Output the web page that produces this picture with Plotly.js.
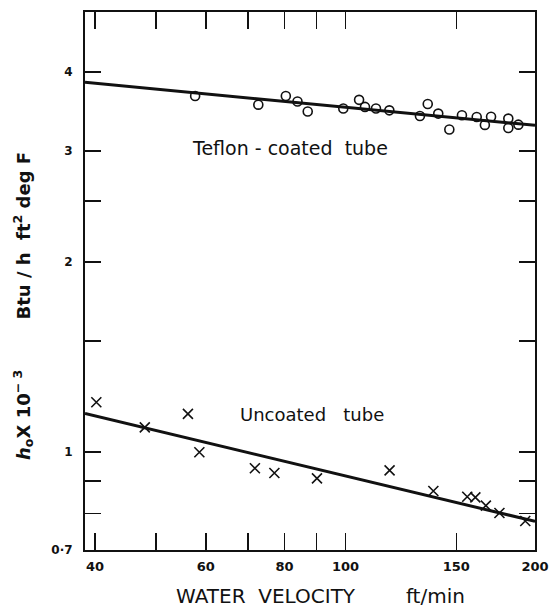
<!DOCTYPE html>
<html>
<head>
<meta charset="utf-8">
<script src="https://cdn.plot.ly/plotly-3.0.1.min.js"></script>
<style>html,body{margin:0;padding:0;background:#fff;}#chart{width:550px;height:612px;}</style>
</head>
<body>
<div id="chart"></div>
<script>
// Teflon-coated tube (open circles): water velocity ft/min, h_o x 10^-3
const teflonVel = [57.7, 72.7, 80.4, 83.9, 87.1, 99.2, 105.1, 107.4, 111.8, 117.4, 131.3, 135.1, 140.4, 146.2, 153.1, 161.6, 166.5, 170.3, 181.4, 181.4, 188.2];
const teflonH   = [3.666, 3.552, 3.666, 3.594, 3.464, 3.502, 3.615, 3.523, 3.502, 3.479, 3.408, 3.561, 3.438, 3.244, 3.417, 3.396, 3.299, 3.398, 3.376, 3.262, 3.302];
// Uncoated tube (crosses)
const uncoatedVel = [40.2, 48.0, 56.2, 58.6, 71.8, 77.1, 90.1, 117.5, 137.9, 156.1, 160.8, 167.1, 175.6, 193.0];
const uncoatedH   = [1.20, 1.095, 1.15, 1.00, 0.943, 0.927, 0.909, 0.936, 0.868, 0.850, 0.848, 0.823, 0.801, 0.778];
// Fitted straight lines (log-log)
const fitVel = [38.57, 200];
const teflonFit = [3.854, 3.294];
const uncoatedFit = [1.152, 0.777];
// Axis ticks
const xTickVals = [40, 50, 60, 70, 80, 90, 100, 150, 200];
const xTickText = ['40', '', '60', '', '80', '', '100', '150', '200'];
const yTickVals = [0.7, 0.8, 0.9, 1, 1.5, 2, 2.5, 3, 4];
const yTickText = ['0·7', '', '', '1', '', '2', '', '3', '4'];

const ink = '#111';
const fontFam = 'DejaVu Sans, sans-serif';
const nb = '\u00a0';

const traces = [
  {x: fitVel, y: teflonFit, mode: 'lines', line: {color: ink, width: 3}, hoverinfo: 'skip'},
  {x: fitVel, y: uncoatedFit, mode: 'lines', line: {color: ink, width: 3}, hoverinfo: 'skip'},
  {x: teflonVel, y: teflonH, mode: 'markers', name: 'Teflon-coated tube',
   marker: {symbol: 'circle-open', size: 9, color: ink, line: {color: ink, width: 1.6}}},
  {x: uncoatedVel, y: uncoatedH, mode: 'markers', name: 'Uncoated tube',
   marker: {symbol: 'x-thin-open', size: 10, color: ink, line: {color: ink, width: 1.6}}}
];

const layout = {
  width: 550, height: 612,
  margin: {l: 85, r: 15, t: 12, b: 62},
  paper_bgcolor: '#fff', plot_bgcolor: '#fff',
  showlegend: false,
  font: {family: fontFam, color: ink},
  xaxis: {
    type: 'log', range: [Math.log10(38.57), Math.log10(200)],
    tickmode: 'array', tickvals: xTickVals, ticktext: xTickText,
    ticks: 'inside', ticklen: 17, tickwidth: 1.5, tickcolor: ink,
    showline: true, linewidth: 2, linecolor: ink, mirror: 'ticks',
    showgrid: false, zeroline: false,
    tickfont: {family: fontFam, size: 13, color: ink, weight: 'bold'},
    ticklabelstandoff: 3
  },
  yaxis: {
    type: 'log', range: [Math.log10(0.7), Math.log10(4.98)],
    tickmode: 'array', tickvals: yTickVals, ticktext: yTickText,
    ticks: 'inside', ticklen: 16, tickwidth: 1.5, tickcolor: ink,
    showline: true, linewidth: 2, linecolor: ink, mirror: 'ticks',
    showgrid: false, zeroline: false,
    tickfont: {family: fontFam, size: 12, color: ink, weight: 'bold'},
    ticklabelstandoff: 8
  },
  annotations: [
    {xref: 'paper', yref: 'paper', x: (320 - 85) / 450, y: (550 - 596) / 538,
     xanchor: 'center', yanchor: 'middle', showarrow: false,
     text: 'WATER' + nb + nb + 'VELOCITY' + nb.repeat(8) + 'ft/min',
     font: {family: fontFam, size: 20, color: ink}},
    {xref: 'paper', yref: 'paper', x: (23 - 85) / 450, y: (550 - 306) / 538,
     xanchor: 'center', yanchor: 'middle', showarrow: false, textangle: -90,
     text: '<i>h</i><sub>o</sub>X' + nb + '10<sup>\u2212' + nb + '3</sup>' + nb.repeat(8) +
           'Btu' + nb + '/' + nb + 'h' + nb + nb + 'ft<sup>2</sup>' + nb + 'deg' + nb + 'F',
     font: {family: fontFam, size: 18, color: ink, weight: 'bold'}},
    {xref: 'paper', yref: 'paper', x: (290 - 85) / 450, y: (550 - 148) / 538,
     xanchor: 'center', yanchor: 'middle', showarrow: false,
     text: 'Teflon' + nb + '-' + nb + 'coated' + nb + nb + 'tube',
     font: {family: fontFam, size: 19, color: ink}},
    {xref: 'paper', yref: 'paper', x: (312 - 85) / 450, y: (550 - 414) / 538,
     xanchor: 'center', yanchor: 'middle', showarrow: false,
     text: 'Uncoated' + nb + nb + nb + 'tube',
     font: {family: fontFam, size: 18, color: ink}}
  ]
};

Plotly.newPlot('chart', traces, layout, {staticPlot: true, displayModeBar: false});
</script>
</body>
</html>
